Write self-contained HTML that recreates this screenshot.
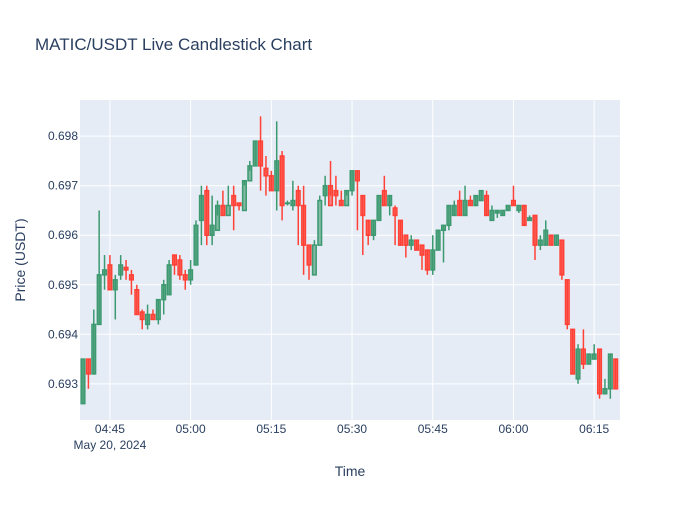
<!DOCTYPE html>
<html><head><meta charset="utf-8">
<style>
body{margin:0;background:#fff;font-family:"Liberation Sans",Arial,sans-serif;}
svg text{font-family:"Liberation Sans",Arial,sans-serif;fill:#2a3f5f;}
</style></head>
<body>
<svg id="chart" width="700" height="500">
<rect width="700" height="500" fill="#fff"/>
<text x="35" y="50" font-size="17">MATIC/USDT Live Candlestick Chart</text>
<rect x="80" y="100" width="540" height="320" fill="#e5ecf6"/>
<g id="grid"></g>
<g id="candles"></g>
<g id="axes"></g>
<text x="350" y="476" font-size="14" text-anchor="middle">Time</text>
<text transform="translate(25,260) rotate(-90)" font-size="14" text-anchor="middle">Price (USDT)</text>
</svg>
<script>
// minutes from 04:40
const opens=[.6926,.6935,.6932,.6942,.6952,.6954,.6949,.6952,.69535,.6952,.6949,.69445,.6942,.6944,.6943,.6947,.6948,.6956,.6955,.6952,
.6951,.6954,.6963,.6969,.6960,.6961,.6966,.6964,.6968,.69665,.6965,.6971,.6974,.6979,.69735,.6972,.6969,.6976,.69665,.6966,
.6969,.6966,.6958,.6952,.6958,.6968,.6970,.6969,.6967,.6966,.6969,.6973,.6968,.6963,.6960,.6963,.6969,.6966,.69655,.6963,
.6960,.6958,.6959,.6958,.6957,.6953,.6957,.6961,.6962,.6964,.6967,.6964,.6967,.6966,.6967,.6968,.6963,.69645,.6964,.6965,
.6967,.6965,.6966,.6963,.6964,.6958,.6958,.6960,.6958,.6959,.6951,.6941,.6931,.6937,.6934,.6935,.6937,.6928,.6929,.6935];
const highs=[.6935,.6935,.6945,.6965,.6956,.6956,.6952,.6956,.6955,.6953,.6950,.6945,.6946,.6945,.6947,.6951,.6955,.6956,.6956,.6953,
.6955,.6963,.6970,.6970,.6968,.6967,.6969,.6970,.6970,.69665,.6971,.6975,.6979,.6984,.6976,.6973,.6983,.6977,.6967,.6971,
.6970,.6970,.6958,.6959,.6967,.6972,.6975,.6972,.6969,.6969,.6973,.6973,.6968,.6963,.6963,.6968,.6972,.6968,.6966,.6963,
.6960,.6960,.6959,.6958,.6957,.6960,.6961,.6962,.6966,.6967,.6969,.6970,.6968,.6968,.6969,.6969,.6966,.6965,.6965,.6966,
.6970,.6966,.6966,.6964,.6964,.6960,.6963,.6960,.6960,.6959,.6951,.6941,.6938,.6941,.6936,.6938,.6937,.6931,.6936,.6935];
const lows=[.6926,.6929,.6932,.6942,.6949,.6949,.6943,.6951,.6951,.6948,.6944,.6941,.6941,.6943,.6942,.6944,.6948,.6952,.6951,.6949,
.6950,.6954,.6958,.6958,.6958,.6964,.6964,.6966,.6961,.6965,.6970,.6973,.6974,.6969,.6968,.6969,.6965,.6963,.6966,.6965,
.6958,.6952,.6951,.6958,.6968,.6966,.6968,.6966,.6966,.6968,.6968,.6961,.6956,.6958,.6959,.6963,.6966,.6964,.6958,.6958,
.69555,.6957,.6957,.6953,.6952,.6952,.6957,.69545,.6961,.6964,.6964,.6964,.6966,.6966,.6967,.6964,.6963,.69635,.6964,.6965,
.6966,.69645,.6962,.6963,.6955,.6957,.6958,.6958,.6958,.6951,.6941,.6932,.6930,.6933,.6934,.6935,.6927,.6928,.6927,.6929];
const closes=[.6935,.6932,.6942,.6952,.6953,.6949,.6951,.6954,.6953,.6951,.6944,.6943,.6944,.6943,.6947,.6950,.6954,.6954,.6952,.6951,
.6953,.6962,.6968,.6960,.6962,.6966,.6964,.6966,.6966,.6966,.6971,.6974,.6979,.6974,.6972,.6969,.6975,.6966,.69665,.6967,
.6966,.6958,.6954,.6958,.6967,.6970,.6966,.6968,.6966,.6969,.6973,.6971,.6964,.6960,.6963,.6968,.6966,.6968,.6964,.6958,
.6958,.6959,.6957,.6956,.6953,.6957,.6961,.6962,.6966,.6966,.6964,.6967,.6966,.6968,.6969,.6964,.6965,.6965,.6965,.6966,
.6966,.6966,.6962,.69635,.6958,.6959,.6961,.6958,.6960,.6952,.6942,.6932,.6937,.6934,.6936,.6936,.6928,.6929,.6936,.6929];
const yTicks=[0.693,0.694,0.695,0.696,0.697,0.698];
const xTickMins=[5,20,35,50,65,80,95];
const xTickLabels=["04:45","05:00","05:15","05:30","05:45","06:00","06:15"];

const NS="http://www.w3.org/2000/svg";
const X0=80,X1=620,Y0=100,Y1=420;
const xMin=-0.56,xMax=99.8,yMin=0.69227,yMax=0.69873;
const xs=m=>X0+(m-xMin)/(xMax-xMin)*(X1-X0);
const ys=p=>Y1-(p-yMin)/(yMax-yMin)*(Y1-Y0);
function mk(tag,attrs,parent){const e=document.createElementNS(NS,tag);for(const k in attrs)e.setAttribute(k,attrs[k]);parent.appendChild(e);return e;}
const grid=document.getElementById('grid'),axes=document.getElementById('axes'),cg=document.getElementById('candles');
yTicks.forEach(t=>{
  const y=ys(t);
  const l=mk('line',{x1:X0,x2:X1,y1:y,y2:y,stroke:'#fff','stroke-width':1},grid);
  
  
  const tx=mk('text',{x:X0-2,y:y+4,'font-size':12,'text-anchor':'end'},axes);
  tx.textContent=t.toFixed(3);
  
  
});
xTickMins.forEach((m,i)=>{
  const x=xs(m);
  const l=mk('line',{x1:x,x2:x,y1:Y0,y2:Y1,stroke:'#fff','stroke-width':1},grid);
  
  
  const tx=mk('text',{x:x,y:433,'font-size':12,'text-anchor':'middle'},axes);
  tx.textContent=xTickLabels[i];
  
  
});
const d=mk('text',{x:xs(5),y:449,'font-size':12,'text-anchor':'middle'},axes);
d.textContent="May 20, 2024";


opens.forEach((o,i)=>{
  const c=closes[i],up=c>=o,col=up?'#3D9970':'#FF4136';
  const x=xs(i);
  const g=mk('g',{},cg);
  
  
  mk('line',{x1:x,x2:x,y1:ys(highs[i]),y2:ys(lows[i]),stroke:col,'stroke-width':1.5},g);
  const top=ys(Math.max(o,c)),bot=ys(Math.min(o,c));
  mk('rect',{x:x-1.8,y:top,width:3.6,height:Math.max(bot-top,0.5),fill:col,'fill-opacity':0.6,stroke:col,'stroke-width':1.5},g);
});
</script>
</body></html>
